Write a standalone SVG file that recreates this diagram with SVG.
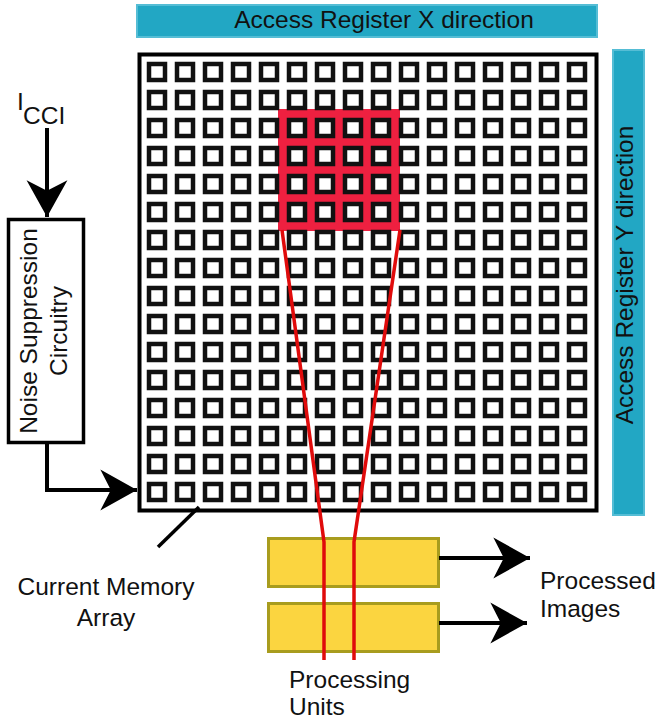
<svg xmlns="http://www.w3.org/2000/svg" width="658" height="721" viewBox="0 0 658 721">
<style>
text{font-family:"Liberation Sans",Arial,sans-serif;font-size:24.5px;fill:#111}
.bar{fill:#22a7c4;stroke:#55bdd5;stroke-width:2}
.cell{fill:#fff;stroke:#111;stroke-width:4.5}
.pu{fill:#fbd540;stroke:#a89c1e;stroke-width:3}
.wire{fill:none;stroke:#000;stroke-width:4}
.red{fill:none;stroke:#e00b0b;stroke-width:3.5}
</style>
<defs>
<marker id="ah" markerUnits="userSpaceOnUse" markerWidth="40" markerHeight="44" viewBox="-36 -21 38 42" refX="0" refY="0" orient="auto">
<path d="M0,0 L-35,-19.5 L-25,0 L-35,19.5 Z" fill="#000"/>
</marker>
<rect id="c" class="cell" x="-8" y="-8" width="16" height="16"/>
<g id="row">
<use href="#c" x="157"/><use href="#c" x="185"/><use href="#c" x="213"/><use href="#c" x="241"/>
<use href="#c" x="269"/><use href="#c" x="297"/><use href="#c" x="325"/><use href="#c" x="353"/>
<use href="#c" x="381"/><use href="#c" x="409"/><use href="#c" x="437"/><use href="#c" x="465"/>
<use href="#c" x="493"/><use href="#c" x="521"/><use href="#c" x="549"/><use href="#c" x="577"/>
</g>
</defs>
<rect width="658" height="721" fill="#fff"/>

<g id="access-x">
<rect class="bar" x="137" y="5" width="460" height="32"/>
<text x="384" y="28" text-anchor="middle" font-size="25">Access Register X direction</text>
</g>

<g id="access-y">
<rect class="bar" x="613" y="50" width="31" height="465"/>
<text transform="translate(633,275) rotate(-90)" text-anchor="middle" font-size="25">Access Register Y direction</text>
</g>

<g id="memory-array">
<rect x="139.5" y="54.5" width="457" height="456" fill="#fff" stroke="#000" stroke-width="4"/>
<rect x="278" y="109" width="122" height="122" fill="#ee2040"/>
<use href="#row" y="72"/><use href="#row" y="100"/><use href="#row" y="128"/><use href="#row" y="156"/>
<use href="#row" y="184"/><use href="#row" y="212"/><use href="#row" y="240"/><use href="#row" y="268"/>
<use href="#row" y="296"/><use href="#row" y="324"/><use href="#row" y="352"/><use href="#row" y="380"/>
<use href="#row" y="408"/><use href="#row" y="436"/><use href="#row" y="464"/><use href="#row" y="492"/>
</g>

<g id="icci">
<text x="17" y="110">I</text>
<text x="23" y="124">CCI</text>
</g>

<g id="noise-suppression">
<rect x="8.5" y="219.5" width="75" height="223" fill="#fff" stroke="#000" stroke-width="3.5"/>
<text transform="translate(37,331) rotate(-90)" text-anchor="middle">Noise Suppression</text>
<text transform="translate(67,331) rotate(-90)" text-anchor="middle">Circuitry</text>
</g>

<g id="processing-unit-1">
<rect class="pu" x="268.5" y="538.5" width="170" height="48"/>
</g>
<g id="processing-unit-2">
<rect class="pu" x="268.5" y="603.5" width="170" height="48"/>
</g>

<g id="connectors">
<path class="wire" d="M47,128 V217" marker-end="url(#ah)"/>
<path class="wire" d="M47,443 V490 H137" marker-end="url(#ah)"/>
<path class="wire" d="M439,558 H530" marker-end="url(#ah)"/>
<path class="wire" d="M439,623 H527" marker-end="url(#ah)"/>
<path d="M158,547 L199,507" stroke="#000" stroke-width="3.5"/>
<path class="red" d="M282,230 L324,542 V660"/>
<path class="red" d="M400,230 L354,542 V660"/>
</g>

<g id="labels">
<text x="106" y="595" text-anchor="middle">Current Memory</text>
<text x="106" y="626" text-anchor="middle">Array</text>
<text x="289" y="688">Processing</text>
<text x="289" y="715">Units</text>
<text x="540" y="589">Processed</text>
<text x="540" y="617">Images</text>
</g>
</svg>
